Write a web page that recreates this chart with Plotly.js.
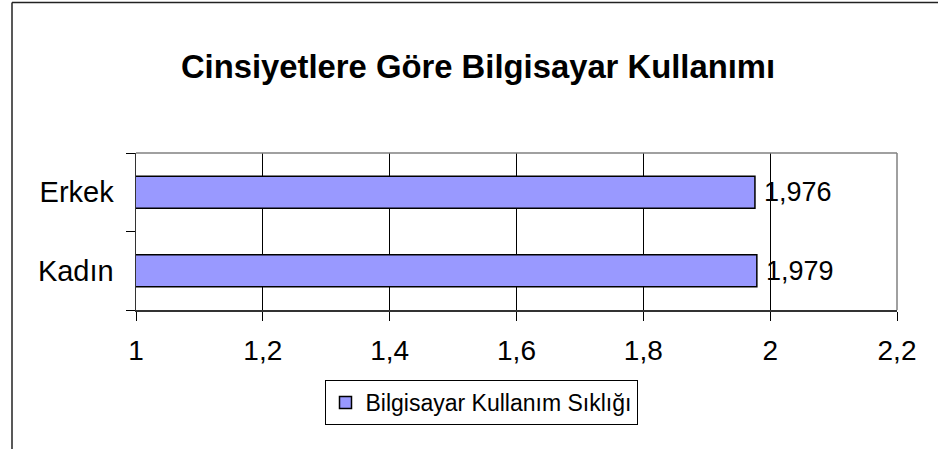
<!DOCTYPE html>
<html>
<head>
<meta charset="utf-8">
<script src="https://cdn.plot.ly/plotly-3.0.1.min.js"></script>
<style>
html,body{margin:0;padding:0;background:#fff;}
#chart{width:938px;height:449px;}
</style>
</head>
<body>
<div id="chart"></div>
<script>
// Data
const categories = ['Kadın', 'Erkek'];
const values = [1.979, 1.976];
const seriesName = 'Bilgisayar Kullanım Sıklığı';
const chartTitle = 'Cinsiyetlere Göre Bilgisayar Kullanımı';
const xTickVals = [1, 1.2, 1.4, 1.6, 1.8, 2, 2.2];

const FONT = '"Liberation Sans", Arial, sans-serif';

// plot-area geometry (px) used only for decorative frame shapes
const W = 938, H = 449;
const L = 136, R = 41, T = 153, B = 139;
const pw = W - L - R, ph = H - T - B;
const px = v => (v - L) / pw;
const py = v => (H - B - v) / ph;

const trace = {
  type: 'bar',
  orientation: 'h',
  y: categories,
  x: values,
  name: seriesName,
  marker: {color: '#9999FF', line: {color: '#000000', width: 1.5}},
  hoverinfo: 'skip',
  showlegend: true
};

const annotations = categories.map((c, i) => ({
  x: values[i], y: c, xref: 'x', yref: 'y',
  text: values[i].toFixed(3).replace('.', ','),
  showarrow: false, xanchor: 'left', yanchor: 'middle', xshift: 7,
  font: {family: FONT, size: 27, color: '#000'}
}));

const layout = {
  width: W, height: H,
  margin: {l: L, r: R, t: T, b: B, pad: 0},
  paper_bgcolor: '#ffffff',
  plot_bgcolor: '#ffffff',
  separators: ', ',
  font: {family: FONT, color: '#000'},
  title: {
    text: '<b>' + chartTitle + '</b>',
    font: {family: FONT, size: 32.8, color: '#000'},
    xref: 'container', x: 478 / W, xanchor: 'center',
    yref: 'container', y: 1 - 67 / H, yanchor: 'middle'
  },
  bargap: 0.59,
  xaxis: {
    range: [1, 2.2],
    tickvals: xTickVals,
    ticks: 'outside', ticklen: 9, tickcolor: '#000', tickwidth: 1,
    showgrid: true, gridcolor: '#000', gridwidth: 1,
    showline: true, linecolor: '#333', linewidth: 1.5,
    zeroline: false,
    tickfont: {family: FONT, size: 28, color: '#000'},
    ticklabelstandoff: 6,
    fixedrange: true
  },
  yaxis: {
    type: 'category',
    categoryorder: 'array', categoryarray: categories,
    ticks: 'outside', ticklen: 9, tickcolor: '#000', tickwidth: 1,
    tickson: 'boundaries',
    showgrid: false,
    showline: true, linecolor: '#333', linewidth: 1.5,
    zeroline: false,
    tickfont: {family: FONT, size: 29, color: '#000'},
    ticklabelstandoff: 15,
    fixedrange: true
  },
  legend: {
    orientation: 'h',
    xref: 'container', x: 481 / W, xanchor: 'center',
    yref: 'container', y: 1 - 380 / H, yanchor: 'top',
    bordercolor: '#000', borderwidth: 1,
    bgcolor: '#fff',
    font: {family: FONT, size: 23, color: '#000'}
  },
  annotations: annotations,
  shapes: [
    // gray plot-area frame (top and right)
    {type: 'line', xref: 'paper', yref: 'paper', x0: 0, x1: 1, y0: 1, y1: 1,
     line: {color: '#808080', width: 1.5}, layer: 'above'},
    {type: 'line', xref: 'paper', yref: 'paper', x0: 1, x1: 1, y0: 0, y1: 1,
     line: {color: '#808080', width: 1.5}, layer: 'above'},
    // outer chart border (left and top)
    {type: 'line', xref: 'paper', yref: 'paper', x0: px(12), x1: px(12), y0: py(2.5), y1: py(H + 5),
     line: {color: '#222', width: 1.5}, layer: 'above'},
    {type: 'line', xref: 'paper', yref: 'paper', x0: px(12), x1: px(W + 5), y0: py(2.5), y1: py(2.5),
     line: {color: '#222', width: 1.5}, layer: 'above'}
  ]
};

Plotly.newPlot('chart', [trace], layout, {displayModeBar: false, staticPlot: true});
</script>
</body>
</html>
